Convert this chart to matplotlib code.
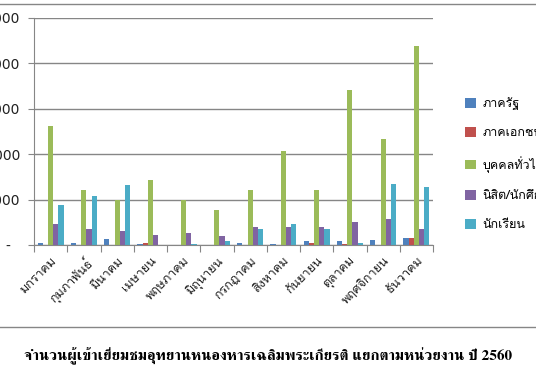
import numpy as np
import matplotlib
matplotlib.use('Agg')
import matplotlib.pyplot as plt
from matplotlib.lines import Line2D

months = ['มกราคม', 'กุมภาพันธ์', 'มีนาคม', 'เมษายน', 'พฤษภาคม', 'มิถุนายน',
          'กรกฎาคม', 'สิงหาคม', 'กันยายน', 'ตุลาคม', 'พฤศจิกายน', 'ธันวาคม']
series_names = ['ภาครัฐ', 'ภาคเอกชน', 'บุคคลทั่วไป', 'นิสิต/นักศึกษา', 'นักเรียน']
gov = [45, 45, 130, 25, 0, 0, 45, 25, 90, 90, 110, 150]
private = [0, 0, 0, 45, 0, 0, 0, 0, 45, 20, 0, 150]
public = [2620, 1210, 990, 1430, 1000, 770, 1210, 2070, 1210, 3410, 2330, 4380]
students_uni = [460, 350, 310, 220, 260, 200, 400, 400, 400, 510, 570, 350]
students = [880, 1080, 1320, 0, 20, 90, 350, 460, 350, 45, 1340, 1280]
colors = ['#4F81BD', '#C0504D', '#9BBB59', '#8064A2', '#4BACC6']
yticks = [0, 1000, 2000, 3000, 4000, 5000]
ytick_labels = ['-  ', '1,000', '2,000', '3,000', '4,000', '5,000']
title = 'จำนวนผู้เข้าเยี่ยมชมอุทยานหนองหารเฉลิมพระเกียรติ แยกตามหน่วยงาน ปี 2560'

thai_sans = ['Loma', 'DejaVu Sans']
thai_serif = ['FreeSerif', 'DejaVu Serif']
plt.rcParams['font.family'] = thai_sans

fig = plt.figure(figsize=(5.36, 3.71), dpi=100)
ax = fig.add_axes([34/536, 1-245/371, (433-34)/536, (245-18)/371])

data = [gov, private, public, students_uni, students]
x = np.arange(len(months))
w = 0.157
for i, vals in enumerate(data):
    ax.bar(x + (i - 2) * w, vals, width=w, color=colors[i], label=series_names[i])

ax.set_xlim(-0.5, len(months) - 0.5)
ax.set_ylim(0, 5000)
ax.set_yticks(yticks)
ax.set_yticklabels(ytick_labels, fontsize=10, family=['DejaVu Sans'], color='#222222')
ax.set_xticks(np.arange(len(months) + 1) - 0.5)
ax.set_xticklabels([])
ax.set_xticks(x, minor=True)
ax.set_xticklabels(months, minor=True, rotation=45, ha='right', rotation_mode='anchor',
                   fontsize=9, color='#222222')
ax.tick_params(axis='x', which='minor', length=0, pad=7)
ax.tick_params(axis='x', which='major', length=5, color='#868686')
ax.tick_params(axis='y', length=4, color='#868686', pad=6)
ax.grid(axis='y', color='#868686', lw=1)
ax.set_axisbelow(True)
for s in ['top', 'right']:
    ax.spines[s].set_visible(False)
for s in ['left', 'bottom']:
    ax.spines[s].set_color('#868686')

ax.legend(loc='upper left', bbox_to_anchor=(460/536, 1-92/371), bbox_transform=fig.transFigure,
          frameon=False, fontsize=9, handlelength=0.85, handleheight=0.85, labelspacing=1.35,
          handletextpad=0.55, borderaxespad=0)

# chart frame lines (top and bottom of the embedded chart box)
fig.add_artist(Line2D([0, 1], [1-4/371, 1-4/371], color='#868686', lw=1))
fig.add_artist(Line2D([0, 1], [1-327/371, 1-327/371], color='#868686', lw=1))

fig.text(0.5, 1-356/371, title, ha='center', va='center', fontsize=11,
         fontweight='bold', family=thai_serif)

fig.savefig('out.png', dpi=100)
